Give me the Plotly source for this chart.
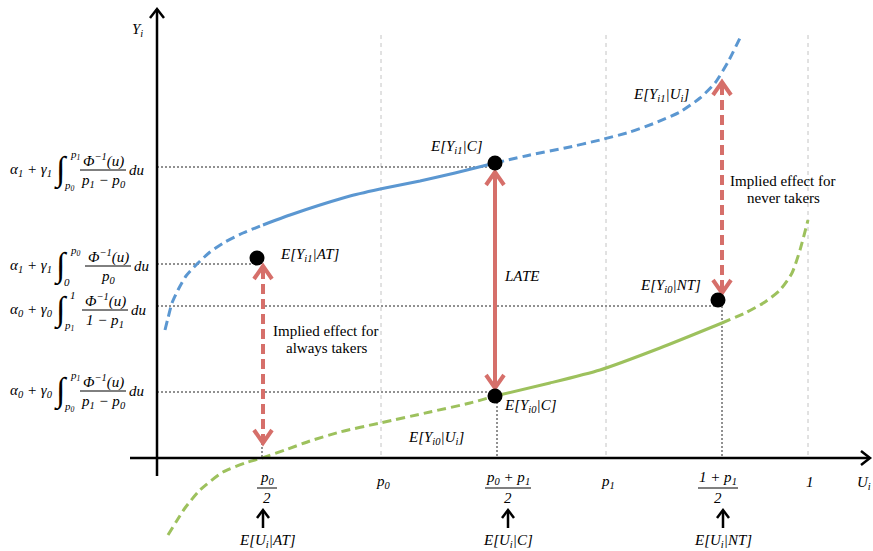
import plotly.graph_objects as go

# ---- data (schematic units: x to the right, y downward as on the picture) ----
blue_x = [165, 168, 172, 178, 186, 197, 210, 225, 243, 263, 290, 320, 350, 385, 420, 455, 495,
          530, 565, 600, 630, 655, 680, 700, 715, 728, 740]
blue_y = [330, 318, 303, 290, 276, 264, 252, 242, 233, 225, 215, 205, 196, 188, 181, 173, 163,
          155, 148, 140, 132, 123, 112, 98, 83, 62, 38]
green_x = [168, 176, 185, 200, 223, 245, 262, 285, 310, 340, 380, 430, 470, 495,
           550, 600, 660, 722, 745, 765, 780, 792, 800, 808]
green_y = [535, 522, 508, 490, 472, 463, 458, 450, 441, 432, 423, 412, 403, 396,
           383, 370, 348, 323, 313, 302, 290, 273, 250, 220]
dot_x = [257, 495, 495, 718]
dot_y = [258, 163, 396, 300]
dot_labels = ["E[Y<sub>i1</sub>|AT]", "E[Y<sub>i1</sub>|C]", "E[Y<sub>i0</sub>|C]", "E[Y<sub>i0</sub>|NT]"]
grid_x = [381, 606, 808]
x_tick_labels = ["p<sub>0</sub>", "p<sub>1</sub>", "1"]
frac_ticks_num = ["p<sub>0</sub>", "p<sub>0</sub> + p<sub>1</sub>", "1 + p<sub>1</sub>"]
frac_ticks_den = ["2", "2", "2"]
group_labels = ["E[U<sub>i</sub>|AT]", "E[U<sub>i</sub>|C]", "E[U<sub>i</sub>|NT]"]

BLUE = "#5b97d1"
GREEN = "#9dc15d"
RED = "#d66f6a"
GRAY = "#c4c4c4"
FONT = "'Liberation Serif', 'DejaVu Serif', serif"

fig = go.Figure()

def line(xs, ys, color, width, dash="solid"):
    fig.add_trace(go.Scatter(x=xs, y=ys, mode="lines", hoverinfo="skip",
                             line=dict(color=color, width=width, dash=dash, shape="spline", smoothing=0.6)))

def seg(xs, ys, color, width, dash="solid"):
    fig.add_trace(go.Scatter(x=xs, y=ys, mode="lines", hoverinfo="skip",
                             line=dict(color=color, width=width, dash=dash)))

def split(xs, ys, lo, hi):
    px = [x for x in xs if lo <= x <= hi]
    py = [y for x, y in zip(xs, ys) if lo <= x <= hi]
    return px, py

# gray dashed gridlines
for gx in grid_x:
    seg([gx, gx], [35, 458], GRAY, 1, "4px,4px")

# black dotted guide lines
for hy, hx in [(167, 490), (264, 252), (306, 718), (392, 490)]:
    seg([157, hx], [hy, hy], "#222222", 1, "2px,2px")
for vx, vtop in [(262, 443), (497, 402), (722, 306)]:
    seg([vx, vx], [vtop, 458], "#222222", 1, "2px,2px")

# curves
bx, by = split(blue_x, blue_y, 0, 263); line(bx, by, BLUE, 3, "9px,5px")
bx, by = split(blue_x, blue_y, 263, 495); line(bx, by, BLUE, 3)
bx, by = split(blue_x, blue_y, 495, 999); line(bx, by, BLUE, 3, "9px,5px")
gx_, gy_ = split(green_x, green_y, 0, 495); line(gx_, gy_, GREEN, 3, "9px,5px")
gx_, gy_ = split(green_x, green_y, 495, 722); line(gx_, gy_, GREEN, 3)
gx_, gy_ = split(green_x, green_y, 722, 999); line(gx_, gy_, GREEN, 3, "9px,5px")

# axes
seg([157, 157], [476, 9], "black", 2.5)
seg([150, 157, 164], [18, 9, 18], "black", 2.5)
seg([130, 869], [458, 458], "black", 2.5)
seg([861, 870, 861], [451, 458, 465], "black", 2.5)

# red double arrows
def red_arrow(x, y0, y1, dash):
    seg([x, x], [y0 + 3, y1 - 3], RED, 4, dash)
    seg([x - 9, x, x + 9], [y0 + 13, y0, y0 + 13], RED, 4)
    seg([x - 9, x, x + 9], [y1 - 13, y1, y1 - 13], RED, 4)

red_arrow(263, 266, 443, "10px,5px")
red_arrow(495, 172, 388, "solid")
red_arrow(722, 82, 293, "10px,5px")

# small black arrows below the axis
for ax_ in [263, 508, 723]:
    seg([ax_, ax_], [528, 512], "black", 2.5)
    seg([ax_ - 6, ax_, ax_ + 6], [518, 510, 518], "black", 2.5)

# dots
fig.add_trace(go.Scatter(x=dot_x, y=dot_y, mode="markers", hoverinfo="skip",
                         marker=dict(color="black", size=15)))

ann = []
def text(x, y, s, size=15, italic=True, xanchor="center"):
    ann.append(dict(x=x, y=y, xref="x", yref="y", text=("<i>%s</i>" % s) if italic else s,
                    showarrow=False, xanchor=xanchor, yanchor="middle",
                    font=dict(family=FONT, size=size, color="black")))

shapes = []
def bar(x0, x1, y):
    shapes.append(dict(type="line", xref="x", yref="y", x0=x0, x1=x1, y0=y, y1=y,
                       line=dict(color="black", width=1)))

# point labels
for (lx, ly), s in zip([(310, 255), (456, 147), (530, 406), (670, 286)], dot_labels):
    text(lx, ly, s)
text(661, 95, "E[Y<sub>i1</sub>|U<sub>i</sub>]")
text(436, 438, "E[Y<sub>i0</sub>|U<sub>i</sub>]")
text(521, 276, "LATE")
text(137, 30, "Y<sub>i</sub>")
text(864, 483, "U<sub>i</sub>")
text(326, 331, "Implied effect for", italic=False)
text(326, 348, "always takers", italic=False)
text(783, 181, "Implied effect for", italic=False)
text(783, 198, "never takers", italic=False)

# x tick labels
for gx, s in zip(grid_x, x_tick_labels):
    text(gx + 2, 482, s)
for cx, num, den, hw in zip([267, 508, 718], frac_ticks_num, frac_ticks_den, [10, 23, 20]):
    text(cx, 478, num)
    bar(cx - hw, cx + hw, 488)
    text(cx, 498, den)
for cx, s in zip([267, 508, 723], group_labels):
    text(cx, 541, s)

# left formulas
def formula(yc, head, upper, lower, num, den, xf0, xf1):
    text(8, yc, head, xanchor="left")
    text(61, yc, "∫", size=34, italic=False)
    text(68, yc - 15, upper, size=11, xanchor="left")
    text(62, yc + 16, lower, size=11, xanchor="left")
    xm = (xf0 + xf1) / 2
    text(xm, yc - 10, num)
    bar(xf0, xf1, yc)
    text(xm, yc + 11, den)
    text(xf1 + 1, yc, "du", xanchor="left")

formula(170, "α<sub>1</sub> + γ<sub>1</sub>", "p<sub>1</sub>", "p<sub>0</sub>",
        "Φ<sup>−1</sup>(u)", "p<sub>1</sub> − p<sub>0</sub>", 80, 126)
formula(266, "α<sub>1</sub> + γ<sub>1</sub>", "p<sub>0</sub>", "0",
        "Φ<sup>−1</sup>(u)", "p<sub>0</sub>", 85, 131)
formula(310, "α<sub>0</sub> + γ<sub>0</sub>", "1", "p<sub>1</sub>",
        "Φ<sup>−1</sup>(u)", "1 − p<sub>1</sub>", 82, 128)
formula(391, "α<sub>0</sub> + γ<sub>0</sub>", "p<sub>1</sub>", "p<sub>0</sub>",
        "Φ<sup>−1</sup>(u)", "p<sub>1</sub> − p<sub>0</sub>", 80, 126)

fig.update_layout(width=873, height=551, margin=dict(l=0, r=0, t=0, b=0),
                  paper_bgcolor="white", plot_bgcolor="white", showlegend=False,
                  annotations=ann, shapes=shapes,
                  xaxis=dict(range=[0, 873], visible=False, fixedrange=True),
                  yaxis=dict(range=[551, 0], visible=False, fixedrange=True))
fig.write_html("out.html", config={"displayModeBar": False, "staticPlot": True},
               post_script="document.body.style.margin='0px';document.body.style.overflow='hidden';")
